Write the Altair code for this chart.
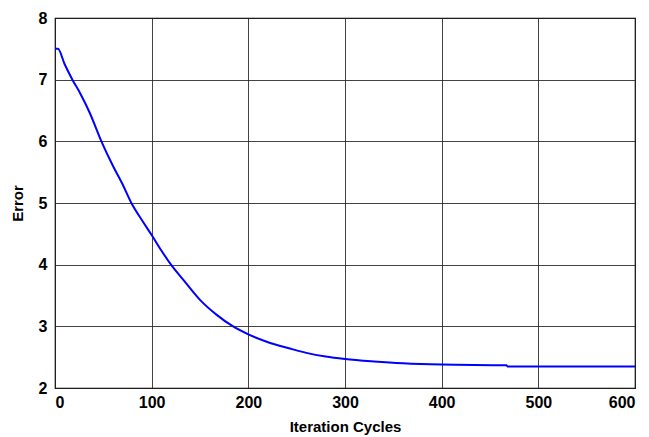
import altair as alt
import pandas as pd

iterations = [0, 3, 10, 18, 26, 36, 48, 60, 70, 79, 90, 100, 110, 120, 133, 150,
              167, 183, 200, 219, 243, 260, 280, 300, 330, 360, 400, 467, 468, 600]
errors = [7.5, 7.5, 7.25, 7.0, 6.78, 6.46, 6.0, 5.6, 5.3, 5.0, 4.72, 4.48, 4.23, 4.0, 3.75, 3.43,
          3.19, 3.01, 2.87, 2.75, 2.64, 2.57, 2.51, 2.47, 2.43, 2.40, 2.38, 2.37, 2.35, 2.35]

df = pd.DataFrame({"Iteration": iterations, "Error": errors})

chart = alt.Chart(df).mark_line(color="#0000ff", strokeWidth=2, interpolate="monotone").encode(
    x=alt.X("Iteration:Q", scale=alt.Scale(domain=[0, 600], nice=False),
            axis=alt.Axis(values=[0, 100, 200, 300, 400, 500, 600], title="Iteration Cycles",
                          format="d", labelPadding=6, titlePadding=9)),
    y=alt.Y("Error:Q", scale=alt.Scale(domain=[2, 8], nice=False, zero=False),
            axis=alt.Axis(values=[2, 3, 4, 5, 6, 7, 8], title="Error", format="d",
                          labelPadding=8, titlePadding=13)),
).properties(
    width=580, height=370,
    autosize=alt.AutoSizeParams(type="none"),
    padding={"left": 47, "top": 10, "right": 5, "bottom": 48},
).configure_view(
    stroke="black", strokeWidth=1.2
).configure_axis(
    grid=True, gridColor="#222222", gridOpacity=0.85, gridWidth=1,
    domain=False, ticks=False,
    labelFont="Liberation Sans", labelFontWeight="bold", labelFontSize=16, labelColor="black",
    titleFont="Liberation Sans", titleFontWeight="bold", titleFontSize=15, titleColor="black",
)

chart.save("out.html", embed_options={"renderer": "svg", "actions": False})
